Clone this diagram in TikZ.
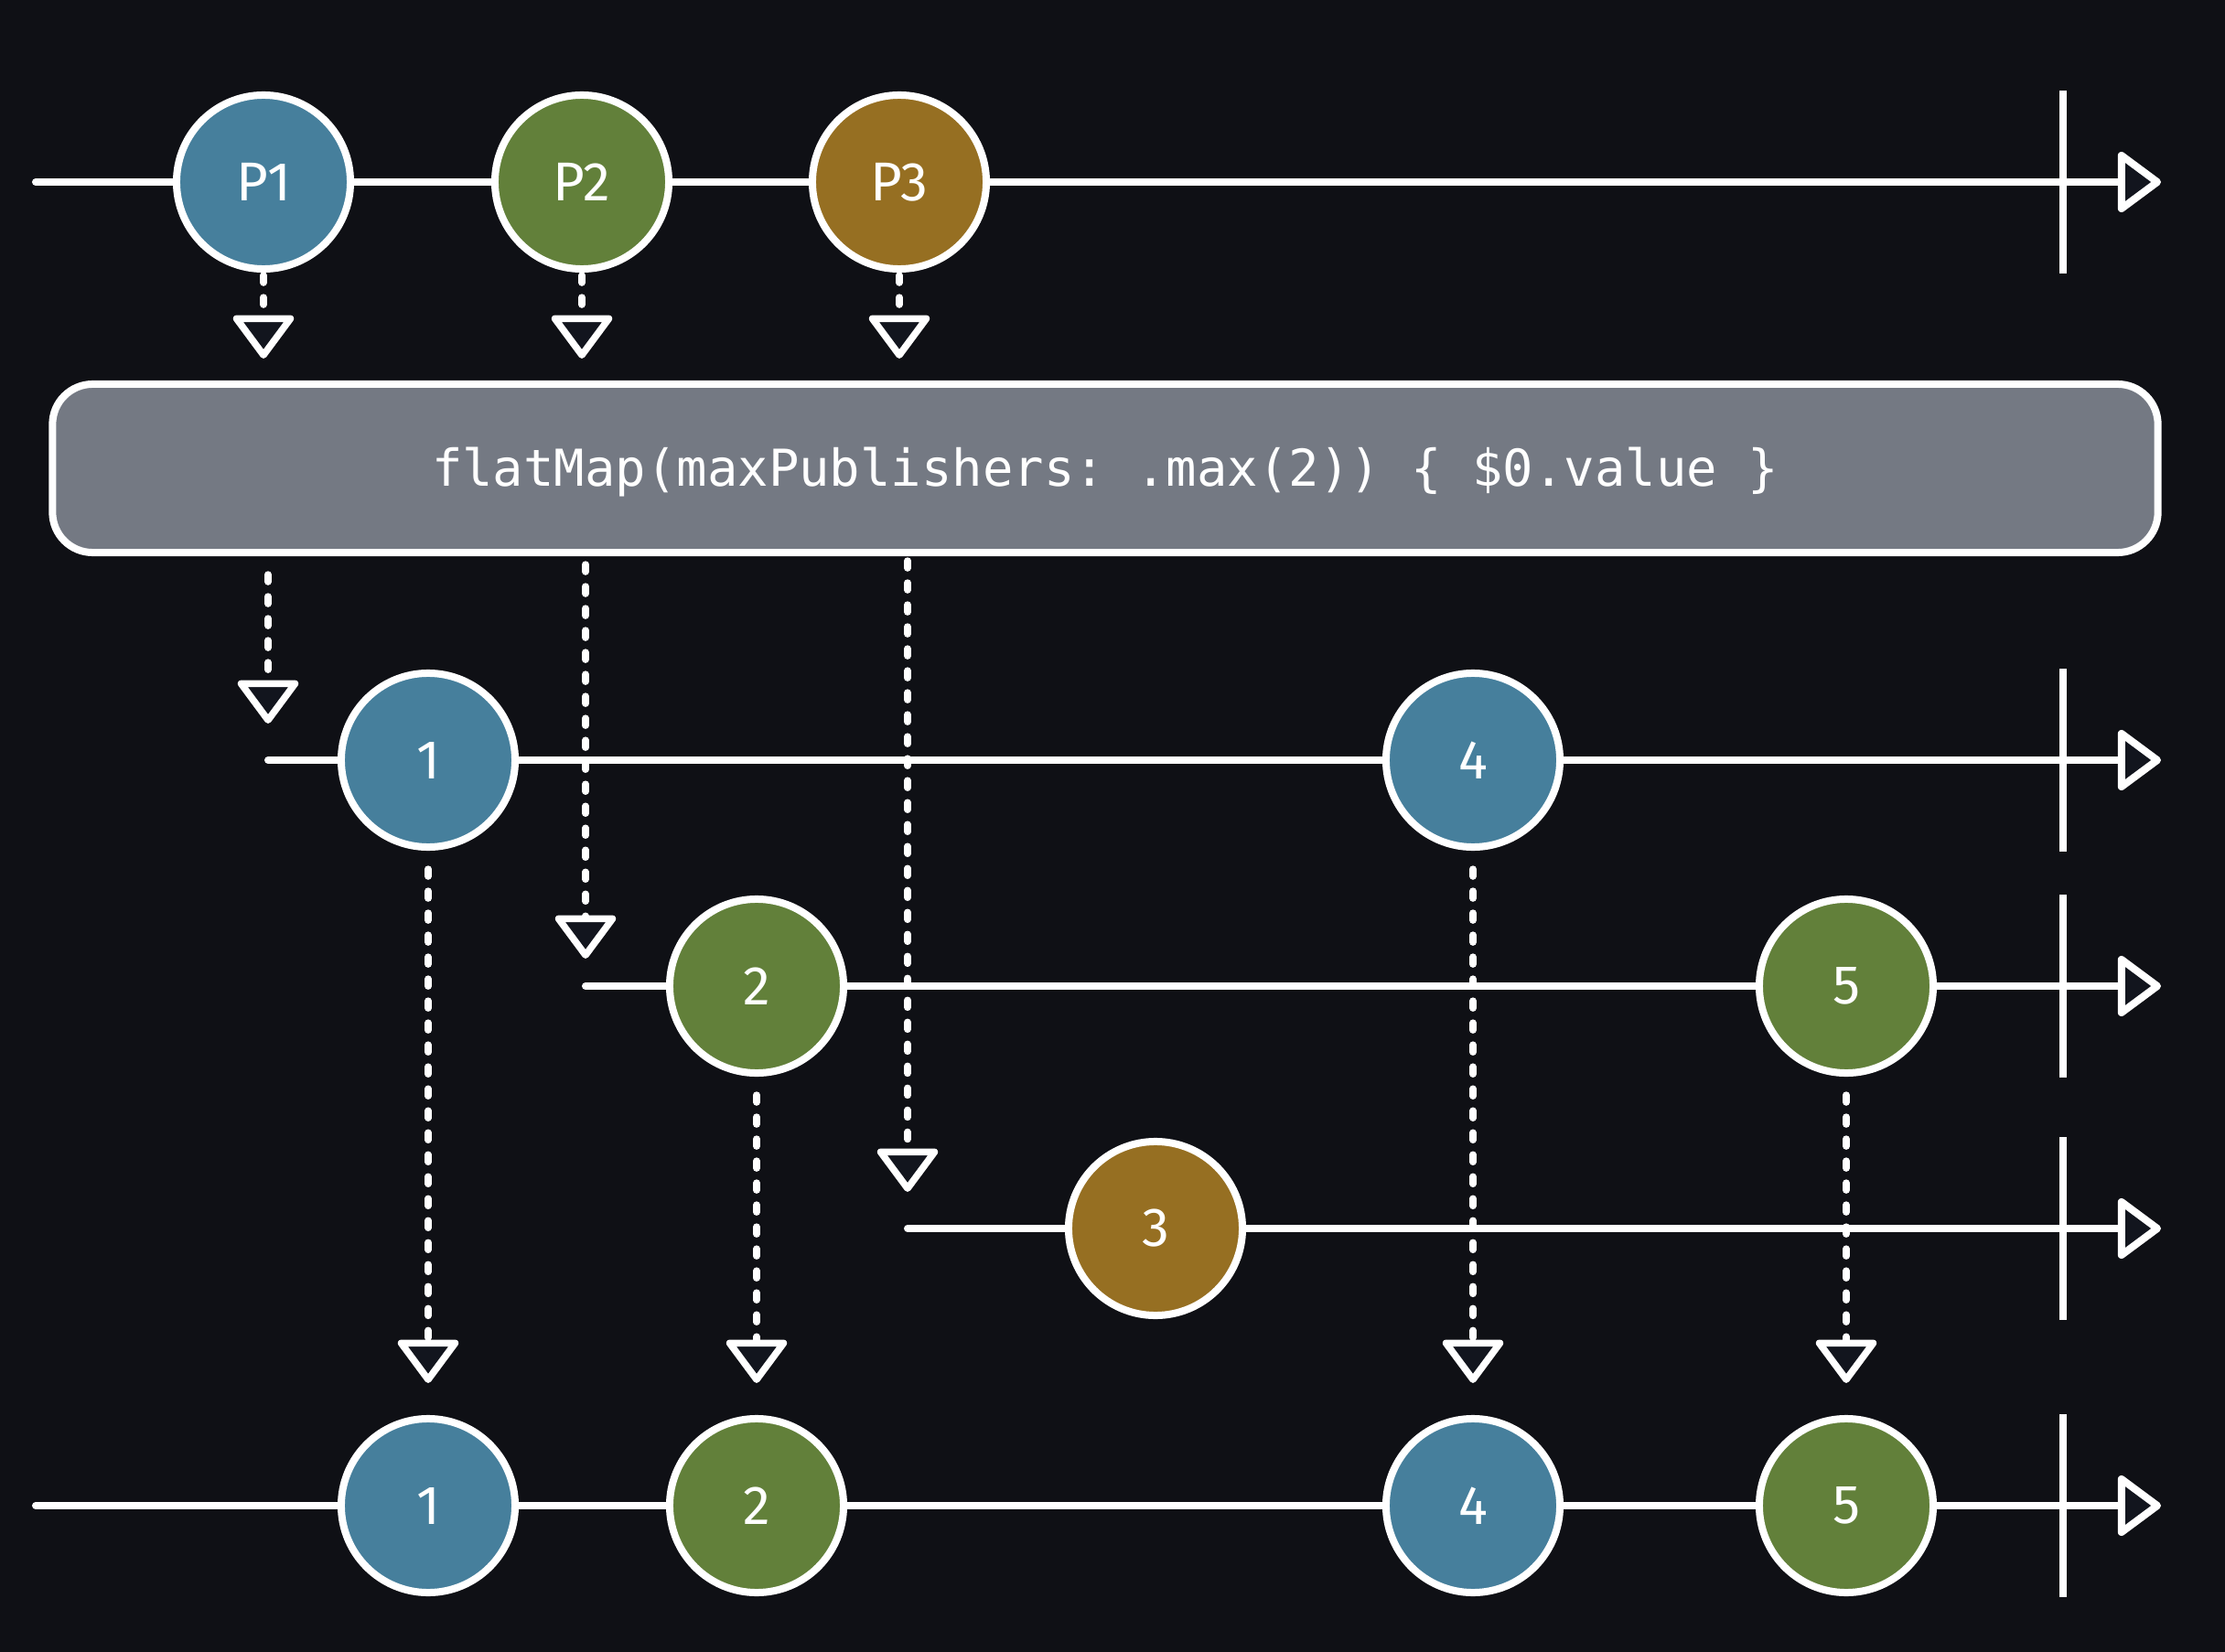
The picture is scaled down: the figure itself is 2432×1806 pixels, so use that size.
\documentclass[tikz,border=0pt]{standalone}
\usepackage{fontspec}
\setmonofont{DejaVu Sans Mono}
\setsansfont{Fira Sans}
\usetikzlibrary{arrows.meta,positioning,calc}
\definecolor{bgc}{HTML}{0F1015}
\definecolor{tipc}{HTML}{12151E}
\definecolor{pblue}{HTML}{467F9C}
\definecolor{pgreen}{HTML}{62803A}
\definecolor{pbrown}{HTML}{966F22}
\definecolor{boxgray}{HTML}{747983}
\tikzset{
  marble/.style={circle, draw=white, line width=0.08cm, minimum size=1.9cm, inner sep=0pt,
    text=white, font=\sffamily\fontsize{17}{18}\selectfont},
  timeline/.style={white, line width=0.08cm, line cap=round,
    -{Triangle[length=0.5cm,width=0.72cm,fill=tipc,round]}},
  tickmark/.style={white, line width=0.08cm},
  flow/.style={white, line width=0.075cm, line cap=round, dash pattern=on 0.08cm off 0.16cm,
    -{Triangle[length=0.5cm,width=0.72cm,fill=tipc,round]}},
  opbox/.style={rectangle, rounded corners=0.44cm, minimum width=23cm, minimum height=1.84cm,
    fill=boxgray, draw=white, line width=0.08cm, text=white, text height=0.38cm, text depth=0cm,
    font=\ttfamily\fontsize{15.8}{18}\selectfont}
}

\begin{document}
\begin{tikzpicture}[x=0.01cm, y=-0.01cm]
        \fill[bgc] (0,0) rectangle (2432,1806);

        % start points of the lines
        \coordinate (s-top) at (39,199);
        \coordinate (s-a) at (293,831);
        \coordinate (s-b) at (640,1078);
        \coordinate (s-c) at (992,1343);
        \coordinate (s-bot) at (39,1646);

        % lines with end tick and arrow
        \foreach \r/\y in {top/199, a/831, b/1078, c/1343, bot/1646} {
            \coordinate (e-\r) at (2362,\y);
            \draw[timeline] (s-\r) -- (e-\r);
            \draw[tickmark] (2255,\y-100) -- (2255,\y+100);
        }

        % source publishers
        \node[marble, fill=pblue] (P1) at (288,199) {P1};
        \node[marble, fill=pgreen] (P2) at (636,199) {P2};
        \node[marble, fill=pbrown] (P3) at (983,199) {P3};

        \node[opbox] (box) at (1208,512) {flatMap(maxPublishers: .max(2)) \{ \$0.value \}};

        \foreach \p in {P1,P2,P3}
            \draw[flow, shorten <=0.03cm, shorten >=0.24cm] (\p.south) -- (\p.south |- box.north);

        \draw[flow, shorten <=0.2cm, shorten >=0.4cm] (box.south -| s-a) -- (s-a);
        \draw[flow, shorten <=0.09cm, shorten >=0.3cm] (box.south -| s-b) -- (s-b);
        \draw[flow, shorten <=0.05cm, shorten >=0.4cm] (box.south -| s-c) -- (s-c);

        % inner values
        \node[marble, fill=pblue] (c1) at (468,831) {1};
        \node[marble, fill=pblue] (c4) at (1610,831) {4};
        \node[marble, fill=pgreen] (c2) at (827,1078) {2};
        \node[marble, fill=pgreen] (c5) at (2018,1078) {5};
        \node[marble, fill=pbrown] (c3) at (1263,1343) {3};

        % output
        \node[marble, fill=pblue] (d1) at (468,1646) {1};
        \node[marble, fill=pgreen] (d2) at (827,1646) {2};
        \node[marble, fill=pblue] (d4) at (1610,1646) {4};
        \node[marble, fill=pgreen] (d5) at (2018,1646) {5};

        \foreach \n in {1,2,4,5}
            \draw[flow, shorten <=0.2cm, shorten >=0.35cm] (c\n.south) -- (d\n.north);
\end{tikzpicture}
\end{document}
